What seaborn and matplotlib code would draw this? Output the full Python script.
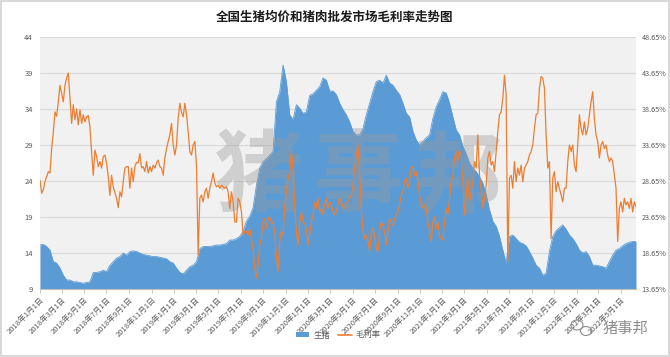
import numpy as np
import pandas as pd
import matplotlib
matplotlib.use("Agg")
import matplotlib.pyplot as plt
import matplotlib.ticker as mticker
from matplotlib.patches import Ellipse, Patch
from matplotlib.lines import Line2D
import seaborn as sns

# =========================
# Datos
# =========================
title = "全国生猪均价和猪肉批发市场毛利率走势图"
fecha_ini = "2018-01-01"
fecha_fin = "2022-06-12"

# precio medio del cerdo vivo (eje izquierdo, yuan/kg)
precio_cerdo = [
    15.1, 15.2, 14.9, 14.4, 12.8, 12.6, 11.9, 10.9, 10.25, 10.25, 10.0, 10.0, 9.9, 9.8, 9.9,
    10.0, 11.3, 11.3, 11.4, 11.6, 11.4, 12.3, 12.8, 13.3, 13.5, 14.0, 13.7, 14.2, 14.3, 14.2,
    14.0, 13.8, 13.7, 13.6, 13.5, 13.5, 13.4, 13.3, 13.2, 12.8, 12.6, 11.9, 11.3, 11.1,
    11.6, 12.1, 12.3, 12.8, 14.6, 14.9, 14.9, 14.9, 15.0, 15.1, 15.1, 15.2, 15.3, 15.8,
    15.8, 16.0, 16.3, 17.0, 18.4, 19.1, 20.3, 23.4, 25.8, 26.7, 27.1, 27.6, 28.1, 35.0, 36.4,
    40.1, 37.8, 33.2, 32.5, 34.6, 34.1, 33.4, 33.6, 35.9, 36.1, 36.6, 37.1, 38.3, 38.0,
    36.5, 36.5, 36.0, 34.8, 33.9, 33.2, 32.2, 30.9, 30.4, 30.4, 31.3, 33.2, 34.8, 36.4, 37.8,
    38.0, 37.6, 38.7, 37.6, 37.3, 36.6, 36.0, 34.8, 33.4, 32.9, 30.9, 29.7, 29.0, 29.5,
    30.0, 30.4, 32.7, 34.3, 35.3, 36.4, 36.2, 34.8, 32.9, 31.1, 30.4, 28.8, 27.8, 26.5, 25.8,
    25.3, 24.6, 23.7, 22.1, 20.0, 18.4, 17.7, 16.3, 14.4, 12.6, 16.3, 16.5, 16.0, 15.5,
    15.3, 15.0, 14.2, 13.3, 12.3, 11.9, 10.9, 11.2, 14.2, 16.3, 17.1, 17.5, 17.9, 17.3, 16.5,
    16.0, 15.3, 14.4, 14.0, 14.2, 13.5, 12.3, 12.3, 12.2, 12.1, 11.9, 12.8, 13.7, 14.4, 14.6,
    15.0, 15.3, 15.5, 15.6, 15.6,
]

# margen bruto del mercado mayorista de carne de cerdo (eje derecho, %)
margen = [
    28.75, 26.95, 27.45, 28.55, 29.25, 29.95, 29.75, 33.15, 35.45, 38.25, 37.65, 39.65, 41.95,
    40.85, 39.65, 41.95, 42.95, 43.65, 40.25, 36.65, 39.25, 37.15, 38.65, 36.45, 38.55, 36.65,
    37.85, 36.85, 37.55, 37.75, 36.15, 32.65, 29.45, 32.95, 32.05, 30.65, 31.35, 30.45, 32.05,
    32.25, 31.15, 29.25, 26.65, 29.45, 27.85, 27.05, 26.25, 24.95, 27.15, 26.45, 28.55, 30.45,
    30.65, 30.65, 27.65, 30.45, 28.55, 30.65, 31.25,
    31.15, 32.45, 30.45, 30.65, 29.95, 31.35, 29.75, 30.65, 29.95, 30.85, 30.45, 31.15, 31.55,
    30.65, 30.45, 29.45, 31.85, 33.15, 34.15, 35.05, 36.65, 33.65, 32.25, 33.65, 37.35, 39.45,
    38.25, 37.55, 39.45, 37.85, 35.55, 32.75, 32.25, 33.65, 34.15, 30.85, 18.4, 26.25, 26.7,
    25.75, 27.15, 27.65, 26.25, 27.65, 28.55, 29.75, 28.35, 27.85, 28.05, 27.65, 28.05, 27.85,
    27.65, 27.85, 27.15, 24.85, 27.15,
    25.75, 22.95, 22.95, 26.25, 25.75, 24.35, 21.15, 21.65, 21.65, 21.15, 22.05, 20.65, 19.25,
    16.55, 15.15, 16.95, 19.75, 20.65, 22.95, 23.45, 22.05, 23.45, 23.65, 22.75, 22.95, 21.65,
    18.35, 16.05, 20.25, 21.65, 21.15, 24.85, 27.15, 29.05, 29.95, 32.95, 29.95, 25.35, 21.65,
    19.75, 22.95, 24.35, 22.95, 22.75, 22.05, 19.75, 21.15, 22.95, 23.95, 25.75, 24.85, 26.25,
    24.35, 24.85, 23.95, 25.35, 26.25, 24.85,
    25.75, 25.35, 24.35, 23.95, 24.35, 25.35, 26.25, 25.75, 25.05, 24.85, 25.55, 25.75, 26.25,
    26.7, 28.05, 30.45, 32.25, 33.65, 29.45, 24.85, 21.65, 20.65, 21.15, 20.25, 18.85, 21.65,
    22.05, 21.15, 19.25, 18.85, 21.65, 22.95, 22.45, 21.65, 19.75, 21.65, 23.45, 22.95, 22.45,
    23.45, 23.95, 24.35, 25.35, 26.7, 27.15, 28.55, 29.05, 27.65, 28.55, 30.45, 30.65, 29.45,
    29.95, 28.55, 26.7, 25.35, 24.85, 25.35,
    24.85, 22.95, 21.65, 20.25, 22.95, 23.65, 22.05, 22.95, 21.15, 20.65, 20.45, 22.95, 24.85,
    23.95, 26.25, 28.55, 29.45, 31.85, 32.75, 31.35, 32.95, 32.25, 28.55, 23.95, 26.7, 29.05,
    25.75, 27.15, 28.55, 31.35, 30.45, 35.05, 29.45, 27.15, 24.85, 26.25, 28.05, 31.85, 32.75,
    30.85, 31.35, 29.95, 32.75, 35.55, 37.85, 38.25, 40.15, 43.35, 40.65, 17.5, 29.05, 29.45,
    27.65, 31.35, 28.55, 30.45, 29.45, 30.85,
    28.55, 30.45, 30.85, 31.35, 32.25, 32.75, 33.65, 35.95, 37.85, 38.05, 41.55, 43.15, 42.95,
    41.55, 35.05, 30.45, 31.35, 20.65, 29.05, 29.95, 27.15, 28.55, 27.65, 26.7, 25.75, 27.65,
    27.65, 31.35, 33.65, 32.75, 33.65, 30.85, 29.95, 33.65, 37.85, 35.95, 35.05, 36.85, 35.05,
    35.95, 37.85, 39.65, 41.05, 37.35, 35.05, 34.15, 31.85, 33.65, 34.15, 33.15, 33.65, 32.25,
    31.35, 31.85, 31.35, 29.45, 27.65, 20.25, 24.85, 25.75, 24.35, 26.25, 25.35, 25.75, 24.85,
    26.25, 24.35, 25.75, 25.05,
]

ticks_izq = [9, 14, 19, 24, 29, 34, 39, 44]
ticks_der = [13.65, 18.65, 23.65, 28.65, 33.65, 38.65, 43.65, 48.65]
ticks_x = pd.date_range("2018-01-01", "2022-05-01", freq="2MS")

df_cerdo = pd.DataFrame({
    "fecha": pd.date_range(fecha_ini, fecha_fin, periods=len(precio_cerdo)),
    "precio": precio_cerdo,
})
df_margen = pd.DataFrame({
    "fecha": pd.date_range(fecha_ini, fecha_fin, periods=len(margen)),
    "margen": margen,
})

# =========================
# Estilo
# =========================
sns.set_theme(style="white")
plt.rcParams["font.family"] = ["Noto Sans CJK SC", "DejaVu Sans"]

azul = "#5b9bd5"
naranja = "#ed7d31"
gris_txt = "#595959"

fig = plt.figure(figsize=(6.7, 3.57), dpi=100, edgecolor="#d9d9d9", linewidth=1.5)
ax = fig.add_axes([40 / 670, 1 - 289 / 357, 596 / 670, 252 / 357])
ax.set_facecolor("#f1f1f1")

# area del precio del cerdo
ax.fill_between(df_cerdo["fecha"], 9, df_cerdo["precio"], color=azul, lw=0, zorder=2)
sns.lineplot(data=df_cerdo, x="fecha", y="precio", ax=ax, color=azul, lw=0.6, zorder=2)

ax.set_ylim(9, 44)
ax.set_yticks(ticks_izq)
ax.set_xlim(pd.Timestamp(fecha_ini), pd.Timestamp(fecha_fin))
ax.set_xticks(ticks_x)
ax.set_xticklabels([f"{d.year}年{d.month}月{d.day}日" for d in ticks_x],
                   rotation=45, ha="right", rotation_mode="anchor")
ax.yaxis.grid(True, color="#d9d9d9", lw=0.8)
ax.set_axisbelow(True)
ax.set_xlabel("")
ax.set_ylabel("")
ax.tick_params(axis="y", length=0, pad=5, labelsize=5.5, labelcolor=gris_txt)
ax.tick_params(axis="x", length=3, width=0.6, color="#bfbfbf", pad=2,
               labelsize=5.5, labelcolor=gris_txt, bottom=True)
for s in ["left", "right", "top"]:
    ax.spines[s].set_visible(False)
ax.spines["bottom"].set_color("#bfbfbf")
ax.spines["bottom"].set_linewidth(0.8)

# marca de agua
for xc, ch in zip([0.366, 0.534, 0.701], "猪事邦"):
    ax.text(xc, 0.44, ch, transform=ax.transAxes, ha="center", va="center",
            fontsize=64, fontweight="bold", color="#999999", alpha=0.38, zorder=5)

# margen (eje derecho)
ax2 = ax.twinx()
sns.lineplot(data=df_margen, x="fecha", y="margen", ax=ax2, color=naranja, lw=0.9)
ax2.set_ylim(13.65, 48.65)
ax2.set_yticks(ticks_der)
ax2.yaxis.set_major_formatter(mticker.FormatStrFormatter("%.2f%%"))
ax2.set_ylabel("")
ax2.tick_params(axis="y", length=0, pad=4, labelsize=5.2, labelcolor=gris_txt)
for s in ax2.spines.values():
    s.set_visible(False)

# titulo
fig.text(0.5, 1 - 17 / 357, title, ha="center", va="center",
         fontsize=9, fontweight="bold", color="#1a1a1a")

# leyenda
handles = [Patch(facecolor=azul, edgecolor="none"), Line2D([0], [0], color=naranja, lw=1.2)]
fig.legend(handles, ["生猪", "毛利率"], loc="center", bbox_to_anchor=(0.505, 1 - 335 / 357),
           ncol=2, frameon=False, fontsize=6, handlelength=1.6, handleheight=0.6,
           handletextpad=0.5, columnspacing=1.0, labelcolor=gris_txt)

# logo abajo a la derecha
fig.patches.append(Ellipse((577 / 670, 1 - 325 / 357), 12 / 670, 10 / 357, transform=fig.transFigure,
                           fill=False, edgecolor="#8c8c8c", lw=0.8))
fig.patches.append(Ellipse((586 / 670, 1 - 331 / 357), 11 / 670, 9 / 357, transform=fig.transFigure,
                           fill=False, edgecolor="#8c8c8c", lw=0.8))
fig.text(625 / 670, 1 - 328 / 357, "猪事邦", ha="center", va="center",
         fontsize=11, color="#8c8c8c")

fig.savefig("out.png", dpi=100)
